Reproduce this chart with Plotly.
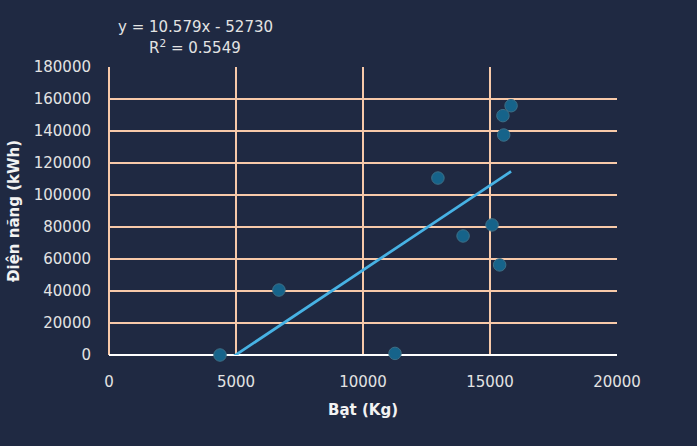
import numpy as np
import plotly.graph_objects as go

# Data
bat_kg = [4370, 6690, 11260, 12950, 13940, 15080, 15380, 15510, 15830, 15540]
dien_nang_kwh = [0, 40600, 1000, 110600, 74400, 81300, 56300, 149600, 155800, 137500]

# Trendline coefficients as printed on the chart
trend_slope = 10.579
trend_intercept = -52730
r_squared = 0.5549

x_ticks = [0, 5000, 10000, 15000, 20000]
y_ticks = [0, 20000, 40000, 60000, 80000, 100000, 120000, 140000, 160000, 180000]

BG = "#1F2942"
GRID = "#F7C9A9"
FONT = "DejaVu Sans"

tx = np.linspace(min(bat_kg), max(bat_kg), 200)
ty = trend_slope * tx + trend_intercept

fig = go.Figure()
fig.add_trace(go.Scatter(
    x=tx, y=ty, mode="lines",
    line=dict(color="#47B2E4", width=2.75),
    hoverinfo="skip", showlegend=False,
))
fig.add_trace(go.Scatter(
    x=bat_kg, y=dien_nang_kwh, mode="markers",
    marker=dict(size=12.5, color="#16638A", line=dict(color="#3E6F86", width=1)),
    showlegend=False, cliponaxis=False,
))

fig.update_layout(
    width=697, height=446,
    paper_bgcolor=BG, plot_bgcolor=BG,
    margin=dict(l=109, r=80, t=67, b=91),
    font=dict(family=FONT, color="#E3E3E3", size=14),
    xaxis=dict(
        range=[0, 20000], tickvals=x_ticks, ticktext=[str(v) for v in x_ticks],
        showgrid=True, gridcolor=GRID, gridwidth=2,
        zeroline=True, zerolinecolor=GRID, zerolinewidth=2,
        showline=False, ticks="", ticklabelstandoff=16,
        tickfont=dict(size=15, color="#E3E3E3"),
        title=dict(text="<b>Bạt (Kg)</b>", font=dict(size=15, color="#F2F2F2"), standoff=14),
        fixedrange=True,
    ),
    yaxis=dict(
        range=[0, 180000], tickvals=y_ticks, ticktext=[str(v) for v in y_ticks],
        showgrid=True, gridcolor=GRID, gridwidth=2,
        zeroline=True, zerolinecolor="#FFFFFF", zerolinewidth=2,
        showline=False, ticks="", ticklabelstandoff=17,
        tickfont=dict(size=15, color="#E3E3E3"),
        title=dict(text="<b>Điện năng (kWh)</b>", font=dict(size=15, color="#F2F2F2"), standoff=10),
        fixedrange=True,
    ),
    annotations=[
        dict(xref="paper", yref="paper", x=(195 - 109) / 508, y=(355 - 27) / 288,
             text=f"y = {trend_slope}x - {abs(trend_intercept)}", showarrow=False,
             xanchor="center", yanchor="middle", font=dict(size=15, color="#E3E3E3")),
        dict(xref="paper", yref="paper", x=(195 - 109) / 508, y=(355 - 47) / 288,
             text=f"R<sup>2</sup> = {r_squared}", showarrow=False,
             xanchor="center", yanchor="middle", font=dict(size=15, color="#E3E3E3")),
    ],
)

fig.write_html(
    "out.html",
    config={"displayModeBar": False},
    post_script="document.body.style.margin='0';document.body.style.background='" + BG + "';",
)
